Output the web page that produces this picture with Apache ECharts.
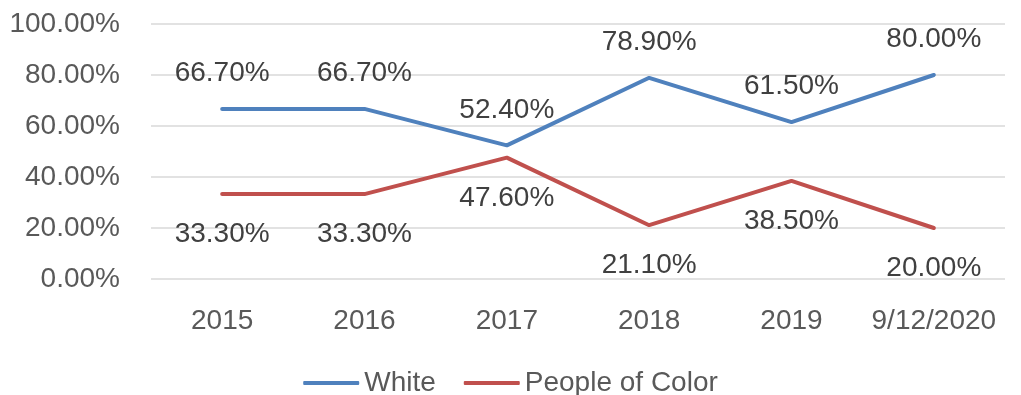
<!DOCTYPE html>
<html><head><meta charset="utf-8">
<script src="https://cdn.jsdelivr.net/npm/echarts@6/dist/echarts.min.js"></script>
<style>html,body{margin:0;padding:0;background:#fff}#c{width:1021px;height:395px}</style>
</head><body><div id="c"></div>
<script>
const categories = ['2015','2016','2017','2018','2019','9/12/2020'];
const white = [66.7, 66.7, 52.4, 78.9, 61.5, 80.0];
const poc = [33.3, 33.3, 47.6, 21.1, 38.5, 20.0];
const seriesNames = ['White', 'People of Color'];
const seriesColors = ['#4F81BD', '#C0504D'];

const chart = echarts.init(document.getElementById('c'));
const fmt = v => v.toFixed(2) + '%';
const FONT = 'Liberation Sans, Arial, sans-serif';
chart.setOption({
  animation: false,
  grid: {left: 151, right: 16, top: 24, bottom: 116},
  legend: {
    data: seriesNames, left: 'center', top: 369, padding: 0, itemWidth: 56, itemHeight: 4, itemGap: 28,
    icon: 'roundRect',
    textStyle: {fontFamily: FONT, fontSize: 28, lineHeight: 28, color: '#595959'}
  },
  xAxis: {
    type: 'category', data: categories, boundaryGap: true,
    axisLine: {show: false}, axisTick: {show: false},
    axisLabel: {interval: 0, margin: 28, fontFamily: FONT, fontSize: 28, lineHeight: 28, color: '#595959'}
  },
  yAxis: {
    type: 'value', min: 0, max: 100, interval: 20,
    axisLabel: {margin: 31, fontFamily: FONT, fontSize: 28, color: '#595959', formatter: v => fmt(v)},
    splitLine: {lineStyle: {color: '#d9d9d9', width: 1.5}},
    axisLine: {show: false}, axisTick: {show: false}
  },
  series: [
    {name: seriesNames[0], type: 'line', data: white, symbol: 'circle', symbolSize: 1,
     color: seriesColors[0], lineStyle: {width: 4, color: seriesColors[0], cap: 'round'},
     label: {show: true, position: 'top', distance: 21, fontFamily: FONT, fontSize: 28, lineHeight: 28, color: '#404040', formatter: p => fmt(p.value)}},
    {name: seriesNames[1], type: 'line', data: poc, symbol: 'circle', symbolSize: 1,
     color: seriesColors[1], lineStyle: {width: 4, color: seriesColors[1], cap: 'round'},
     label: {show: true, position: 'bottom', distance: 26, fontFamily: FONT, fontSize: 28, lineHeight: 28, color: '#404040', formatter: p => fmt(p.value)}}
  ]
});
</script></body></html>
